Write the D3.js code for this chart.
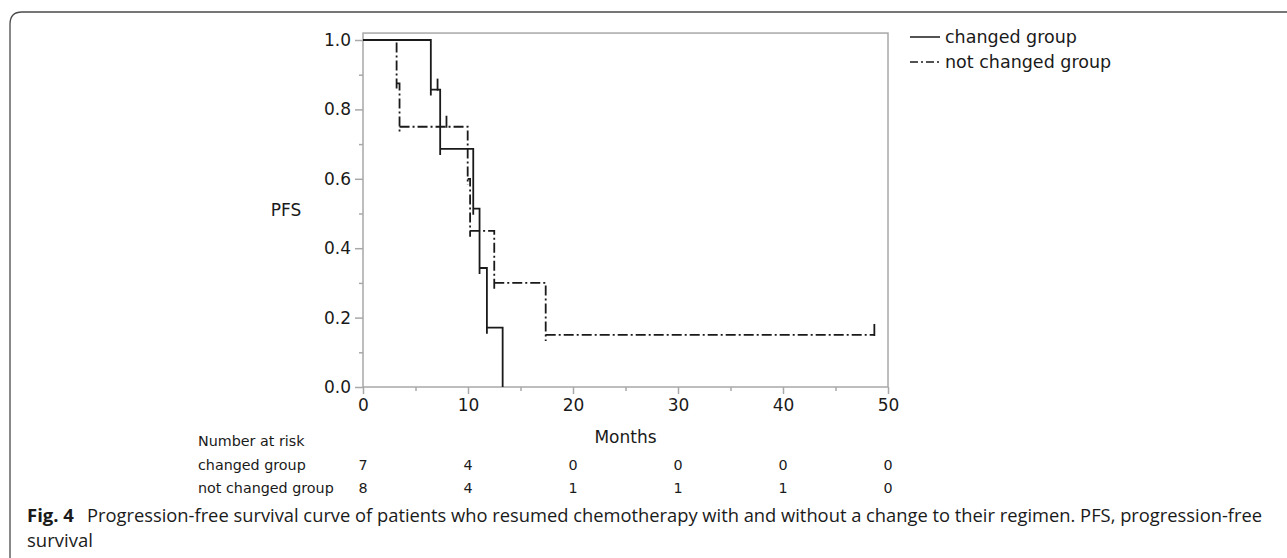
<!DOCTYPE html>
<html>
<head>
<meta charset="utf-8">
<script src="https://cdn.jsdelivr.net/npm/d3@7"></script>
<style>
  body { margin: 0; background: #fff; }
  svg text { font-family: "DejaVu Sans", Verdana, sans-serif; fill: #1a1a1a; }
  .caption { font-family: "Open Sans", "Noto Sans", sans-serif; }
</style>
</head>
<body>
<div id="chart"></div>
<script>
// Kaplan-Meier steps (months, survival after the event)
const changedTimes = [6.46, 7.35, 10.5, 11.1, 11.8, 13.3];
const changedSurv = [0.857, 0.686, 0.514, 0.343, 0.171, 0];
const changedCensor = [7.1];

const notChangedTimes = [3.2, 3.48, 9.97, 10.2, 12.5, 17.4];
const notChangedSurv = [0.875, 0.75, 0.6, 0.45, 0.3, 0.15];
const notChangedCensor = [7.95, 48.7];

const riskMonths = [0, 10, 20, 30, 40, 50];
const riskChanged = [7, 4, 0, 0, 0, 0];
const riskNotChanged = [8, 4, 1, 1, 1, 0];

const yTicks = [0, 0.2, 0.4, 0.6, 0.8, 1.0];
const yMinorTicks = [0.1, 0.3, 0.5, 0.7, 0.9];
const xMinorTicks = [5, 15, 25, 35, 45];

const seriesNames = ['changed group', 'not changed group'];
const captionBold = 'Fig. 4';
const captionLine1 = 'Progression-free survival curve of patients who resumed chemotherapy with and without a change to their regimen. PFS, progression-free';
const captionLine2 = 'survival';

class KMChart {
  constructor() {
    this.width = 1287;
    this.height = 558;
    this.left = 363;
    this.right = 888;
    this.top = 40;
    this.bottom = 387;
    this.dashDot = '10,3,2,3';
  }

  render() {
    this.svg = d3.select('#chart').append('svg')
      .attr('width', this.width)
      .attr('height', this.height);
    this.initScales();
    this.drawFrame();
    this.drawAxes();
    this.drawCurve(changedTimes, changedSurv, changedCensor, null);
    this.drawCurve(notChangedTimes, notChangedSurv, notChangedCensor, this.dashDot);
    this.drawLegend();
    this.drawRiskTable();
    this.drawCaption();
  }

  initScales() {
    this.x = d3.scaleLinear().domain([0, 50]).range([this.left, this.right]);
    this.y = d3.scaleLinear().domain([0, 1]).range([this.bottom, this.top]);
  }

  drawFrame() {
    // outer figure border (top + left with rounded corner)
    this.svg.append('path')
      .attr('d', 'M10,558 V24 Q10,12 22,12 H1287')
      .attr('fill', 'none')
      .attr('stroke', '#4a4a4a')
      .attr('stroke-width', 1.3);

    this.svg.append('rect')
      .attr('x', this.x(0))
      .attr('y', this.y(1.02))
      .attr('width', this.x(50) - this.x(0))
      .attr('height', this.y(0) - this.y(1.02))
      .attr('fill', 'none')
      .attr('stroke', '#a8a8a8')
      .attr('stroke-width', 1.5);
  }

  drawAxes() {
    let yAxis = d3.axisLeft(this.y).tickValues(yTicks).tickFormat(d3.format('.1f')).tickSize(8).tickPadding(4);
    let yMinor = d3.axisLeft(this.y).tickValues(yMinorTicks).tickFormat('').tickSize(4);
    let xAxis = d3.axisBottom(this.x).tickValues(riskMonths).tickSize(7).tickPadding(5);
    let xMinor = d3.axisBottom(this.x).tickValues(xMinorTicks).tickFormat('').tickSize(4);

    let gy = this.svg.append('g').attr('transform', 'translate(' + this.left + ',0)').call(yAxis);
    this.svg.append('g').attr('transform', 'translate(' + this.left + ',0)').call(yMinor);
    let gx = this.svg.append('g').attr('transform', 'translate(0,' + this.bottom + ')').call(xAxis);
    this.svg.append('g').attr('transform', 'translate(0,' + this.bottom + ')').call(xMinor);

    this.svg.selectAll('.domain').remove();
    this.svg.selectAll('.tick line').attr('stroke', '#a8a8a8').attr('stroke-width', 1.5);
    gy.selectAll('text').style('font-size', '17px').attr('fill', '#1a1a1a');
    gx.selectAll('text').style('font-size', '17px').attr('fill', '#1a1a1a');

    this.svg.append('text')
      .attr('x', 286).attr('y', 216)
      .attr('text-anchor', 'middle')
      .style('font-size', '17px')
      .text('PFS');

    this.svg.append('text')
      .attr('x', (this.left + this.right) / 2).attr('y', 443)
      .attr('text-anchor', 'middle')
      .style('font-size', '17px')
      .text('Months');
  }

  drawCurve(times, surv, censor, dash) {
    let path = d3.path();
    let prev = 1;
    let t0 = 0;
    path.moveTo(this.x(0), this.y(1));
    times.forEach((t, i) => {
      path.lineTo(this.x(t), this.y(prev));
      let yNew = this.y(surv[i]);
      path.lineTo(this.x(t), Math.min(yNew + 6, this.y(0)));
      path.moveTo(this.x(t), yNew);
      prev = surv[i];
      t0 = t;
    });
    // carry the last level to the last censored time
    let lastCensor = d3.max(censor);
    if (lastCensor > t0) path.lineTo(this.x(lastCensor), this.y(prev));

    this.svg.append('path')
      .attr('d', path.toString())
      .attr('fill', 'none')
      .attr('stroke', '#1a1a1a')
      .attr('stroke-width', 1.8)
      .attr('stroke-dasharray', dash);

    // censor ticks
    let levelAt = (c) => {
      let s = 1;
      times.forEach((t, i) => { if (t <= c) s = surv[i]; });
      return s;
    };
    this.svg.append('g').selectAll('line')
      .data(censor)
      .join('line')
      .attr('x1', (d) => this.x(d))
      .attr('x2', (d) => this.x(d))
      .attr('y1', (d) => this.y(levelAt(d)) - 11)
      .attr('y2', (d) => this.y(levelAt(d)) + 1)
      .attr('stroke', '#1a1a1a')
      .attr('stroke-width', 1.8);
  }

  drawLegend() {
    let rows = this.svg.append('g').selectAll('g')
      .data(seriesNames)
      .join('g')
      .attr('transform', (d, i) => 'translate(910,' + (37 + i * 25) + ')');
    rows.append('line')
      .attr('x1', 0).attr('x2', 30)
      .attr('stroke', '#1a1a1a')
      .attr('stroke-width', 1.5)
      .attr('stroke-dasharray', (d, i) => i === 0 ? null : '8,3,2,3');
    rows.append('text')
      .attr('x', 35).attr('y', 6)
      .style('font-size', '17.5px')
      .text((d) => d);
  }

  drawRiskTable() {
    let g = this.svg.append('g');
    g.append('text').attr('x', 198).attr('y', 446).style('font-size', '14.3px').text('Number at risk');
    let rowsData = [riskChanged, riskNotChanged];
    rowsData.forEach((vals, r) => {
      let yy = 470 + r * 22.5;
      g.append('text').attr('x', 198).attr('y', yy).style('font-size', '14.3px').text(seriesNames[r]);
      g.selectAll('.n' + r)
        .data(vals)
        .join('text')
        .attr('class', 'n' + r)
        .attr('x', (d, i) => this.x(riskMonths[i]))
        .attr('y', yy)
        .attr('text-anchor', 'middle')
        .style('font-size', '14.3px')
        .text((d) => d);
    });
  }

  drawCaption() {
    let t = this.svg.append('text')
      .attr('class', 'caption')
      .attr('x', 27).attr('y', 522)
      .style('font-size', '18.5px');
    t.append('tspan').style('font-weight', 'bold').text(captionBold);
    t.append('tspan').attr('x', 87).text(captionLine1)
      .attr('textLength', 1175).attr('lengthAdjust', 'spacingAndGlyphs');
    this.svg.append('text')
      .attr('class', 'caption')
      .attr('x', 27).attr('y', 547)
      .style('font-size', '18.5px')
      .text(captionLine2);
  }
}

new KMChart().render();
</script>
</body>
</html>
